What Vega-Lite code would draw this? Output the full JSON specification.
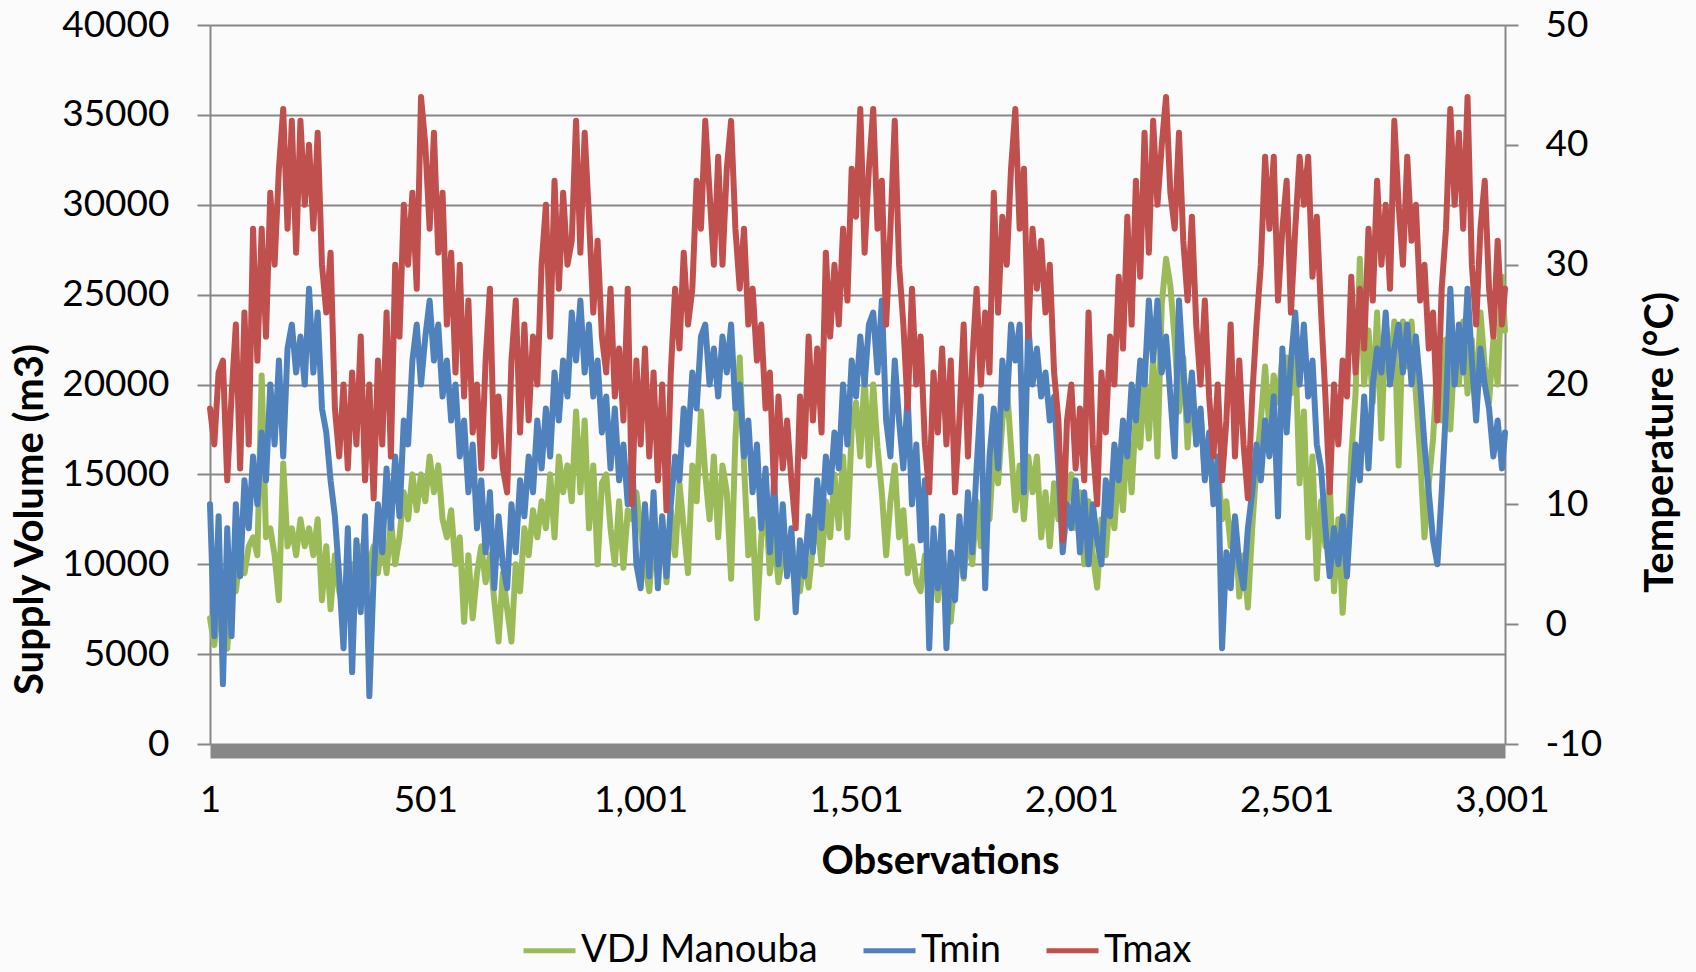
{
"$schema": "https://vega.github.io/schema/vega-lite/v6.json",
"width": 1295, "height": 719,
"autosize": {"type": "none"},
"padding": {"left": 210, "top": 25, "right": 191, "bottom": 228},
"background": "#fbfbfb",
"config": {
 "view": {"stroke": null},
 "font": "Lato",
 "axis": {"labelFont": "Lato", "titleFont": "Lato", "labelColor": "#000000", "titleColor": "#000000", "labelFontSize": 37, "titleFontSize": 40, "titleFontWeight": "bold", "domainColor": "#878787", "tickColor": "#878787", "gridColor": "#878787", "domainWidth": 2, "tickWidth": 2, "gridWidth": 2, "gridOpacity": 1},
 "legend": {"labelFont": "Lato", "labelFontSize": 38, "labelColor": "#000000", "labelLimit": 500}
},
"data": {"values": [
{"o":1,"v":7000,"n":10,"x":18},{"o":11,"v":5500,"n":-1,"x":15},{"o":21,"v":8000,"n":9,"x":21},{"o":31,"v":6500,"n":-5,"x":22},{"o":41,"v":5300,"n":8,"x":12},
{"o":51,"v":9000,"n":-1,"x":19},{"o":61,"v":8500,"n":10,"x":25},{"o":71,"v":10500,"n":4,"x":13},{"o":81,"v":9500,"n":12,"x":26},{"o":91,"v":11000,"n":8,"x":15},
{"o":101,"v":11500,"n":14,"x":33},{"o":111,"v":10500,"n":10,"x":22},{"o":121,"v":20500,"n":16,"x":33},{"o":131,"v":11500,"n":12,"x":24},{"o":141,"v":12000,"n":20,"x":36},
{"o":151,"v":10500,"n":15,"x":30},{"o":161,"v":8000,"n":22,"x":38},{"o":171,"v":15600,"n":14,"x":43},{"o":181,"v":11000,"n":23,"x":33},{"o":191,"v":12000,"n":25,"x":42},
{"o":201,"v":10500,"n":21,"x":31},{"o":211,"v":12500,"n":24,"x":42},{"o":221,"v":11000,"n":20,"x":35},{"o":231,"v":12000,"n":28,"x":40},{"o":241,"v":10500,"n":21,"x":33},
{"o":251,"v":12500,"n":26,"x":41},{"o":261,"v":8000,"n":18,"x":30},{"o":271,"v":11000,"n":16,"x":26},{"o":281,"v":7500,"n":12,"x":31},{"o":291,"v":10500,"n":9,"x":18},
{"o":301,"v":8500,"n":4,"x":14},{"o":311,"v":7500,"n":-2,"x":20},{"o":321,"v":8000,"n":8,"x":13},{"o":331,"v":10000,"n":-4,"x":21},{"o":341,"v":9000,"n":7,"x":15},
{"o":351,"v":11000,"n":1,"x":24},{"o":361,"v":8000,"n":9,"x":12},{"o":371,"v":10000,"n":-6,"x":20},{"o":381,"v":11000,"n":4,"x":10.5},{"o":391,"v":9500,"n":10,"x":22},
{"o":401,"v":11500,"n":6,"x":15},{"o":411,"v":9500,"n":13,"x":26},{"o":421,"v":12500,"n":8,"x":14},{"o":431,"v":10000,"n":14,"x":30},{"o":441,"v":11500,"n":9,"x":24},
{"o":451,"v":14000,"n":17,"x":35},{"o":461,"v":12500,"n":15,"x":30},{"o":471,"v":15000,"n":22,"x":36},{"o":481,"v":13000,"n":25,"x":28},{"o":491,"v":15000,"n":20,"x":44},
{"o":501,"v":13500,"n":24,"x":40},{"o":511,"v":16000,"n":27,"x":33},{"o":521,"v":14000,"n":22,"x":41},{"o":531,"v":15500,"n":25,"x":31},{"o":541,"v":12500,"n":19,"x":36},
{"o":551,"v":11500,"n":22,"x":25},{"o":561,"v":13000,"n":17,"x":31},{"o":571,"v":10000,"n":20,"x":21},{"o":581,"v":11500,"n":14,"x":30},{"o":591,"v":6800,"n":17,"x":19},
{"o":601,"v":10500,"n":11,"x":27},{"o":611,"v":7000,"n":15,"x":16},{"o":621,"v":9500,"n":8,"x":20},{"o":631,"v":11000,"n":12,"x":13},{"o":641,"v":9000,"n":6,"x":22},
{"o":651,"v":10500,"n":11,"x":28},{"o":661,"v":8000,"n":3,"x":14},{"o":671,"v":5700,"n":9,"x":19},{"o":681,"v":9500,"n":5,"x":13},{"o":691,"v":7500,"n":3,"x":11},
{"o":701,"v":5700,"n":10,"x":22},{"o":711,"v":10000,"n":6,"x":27},{"o":721,"v":8500,"n":12,"x":16},{"o":731,"v":12000,"n":9,"x":25},{"o":741,"v":10500,"n":14,"x":17},
{"o":751,"v":13000,"n":11,"x":24},{"o":761,"v":11500,"n":17,"x":20},{"o":771,"v":13500,"n":13,"x":30},{"o":781,"v":12000,"n":18,"x":35},{"o":791,"v":15000,"n":14,"x":24},
{"o":801,"v":11500,"n":21,"x":37},{"o":811,"v":16000,"n":17,"x":28},{"o":821,"v":14000,"n":22,"x":36},{"o":831,"v":15500,"n":19,"x":30},{"o":841,"v":13500,"n":26,"x":32},
{"o":851,"v":18500,"n":22,"x":42},{"o":861,"v":14000,"n":27,"x":31},{"o":871,"v":18000,"n":21,"x":41},{"o":881,"v":12000,"n":25,"x":34},{"o":891,"v":15500,"n":19,"x":26},
{"o":901,"v":10000,"n":22,"x":32},{"o":911,"v":14500,"n":16,"x":24},{"o":921,"v":15000,"n":19,"x":21},{"o":931,"v":12000,"n":13,"x":28},{"o":941,"v":10000,"n":18,"x":19},
{"o":951,"v":13500,"n":12,"x":23},{"o":961,"v":9800,"n":15,"x":17},{"o":971,"v":13000,"n":10,"x":28},{"o":981,"v":12500,"n":14,"x":10},{"o":991,"v":14000,"n":5,"x":22},
{"o":1001,"v":12000,"n":3,"x":15},{"o":1011,"v":10000,"n":10,"x":23},{"o":1021,"v":8500,"n":4,"x":14},{"o":1031,"v":11500,"n":11,"x":21},{"o":1041,"v":9500,"n":3,"x":12},
{"o":1051,"v":12500,"n":9,"x":20},{"o":1061,"v":9000,"n":4,"x":9.5},{"o":1071,"v":13000,"n":10,"x":21},{"o":1081,"v":10500,"n":14,"x":28},{"o":1091,"v":14500,"n":12,"x":23},
{"o":1101,"v":12000,"n":18,"x":31},{"o":1111,"v":9500,"n":15,"x":25},{"o":1121,"v":15500,"n":21,"x":28},{"o":1131,"v":13500,"n":18,"x":37},{"o":1141,"v":18500,"n":24,"x":33},
{"o":1151,"v":15000,"n":25,"x":42},{"o":1161,"v":12500,"n":20,"x":36},{"o":1171,"v":16000,"n":23,"x":30},{"o":1181,"v":11500,"n":19,"x":39},{"o":1191,"v":15500,"n":24,"x":30},
{"o":1201,"v":14000,"n":21,"x":38},{"o":1211,"v":9200,"n":25,"x":42},{"o":1221,"v":17000,"n":18,"x":33},{"o":1231,"v":21500,"n":20,"x":28},{"o":1241,"v":15500,"n":14,"x":33},
{"o":1251,"v":10500,"n":17,"x":25},{"o":1261,"v":12500,"n":11,"x":28},{"o":1271,"v":7000,"n":15,"x":22},{"o":1281,"v":11500,"n":8,"x":25},{"o":1291,"v":13500,"n":13,"x":18},
{"o":1301,"v":9500,"n":6,"x":21},{"o":1311,"v":11500,"n":12,"x":11},{"o":1321,"v":9000,"n":5,"x":19},{"o":1331,"v":10500,"n":10,"x":13},{"o":1341,"v":10000,"n":4,"x":17},
{"o":1351,"v":11500,"n":8,"x":12},{"o":1361,"v":9000,"n":1,"x":8},{"o":1371,"v":8500,"n":7,"x":19},{"o":1381,"v":10500,"n":4,"x":14},{"o":1391,"v":8700,"n":9,"x":24},
{"o":1401,"v":11000,"n":6,"x":17},{"o":1411,"v":12500,"n":12,"x":23},{"o":1421,"v":10000,"n":8,"x":16},{"o":1431,"v":13500,"n":14,"x":31},{"o":1441,"v":11500,"n":11,"x":24},
{"o":1451,"v":15000,"n":16,"x":30},{"o":1461,"v":12000,"n":13,"x":25},{"o":1471,"v":16000,"n":20,"x":33},{"o":1481,"v":11500,"n":15,"x":27},{"o":1491,"v":17500,"n":22,"x":38},
{"o":1501,"v":19000,"n":19,"x":34},{"o":1511,"v":16000,"n":24,"x":43},{"o":1521,"v":20500,"n":20,"x":31},{"o":1531,"v":15500,"n":25,"x":38},{"o":1541,"v":20000,"n":26,"x":43},
{"o":1551,"v":16500,"n":21,"x":33},{"o":1561,"v":14000,"n":27,"x":37},{"o":1571,"v":10500,"n":17,"x":25},{"o":1581,"v":13500,"n":14,"x":33},{"o":1591,"v":15500,"n":22,"x":42},
{"o":1601,"v":11500,"n":17,"x":30},{"o":1611,"v":13000,"n":13,"x":25},{"o":1621,"v":9500,"n":19,"x":18},{"o":1631,"v":11000,"n":10,"x":28},{"o":1641,"v":9000,"n":15,"x":20},
{"o":1651,"v":8500,"n":7,"x":24},{"o":1661,"v":10500,"n":12,"x":15},{"o":1671,"v":9000,"n":-2,"x":11},{"o":1681,"v":10500,"n":8,"x":21},{"o":1691,"v":8000,"n":3,"x":16},
{"o":1701,"v":10500,"n":9,"x":23},{"o":1711,"v":9500,"n":-2,"x":15},{"o":1721,"v":6800,"n":6,"x":22},{"o":1731,"v":9500,"n":2,"x":11},{"o":1741,"v":11000,"n":9,"x":17},
{"o":1751,"v":9200,"n":4,"x":25},{"o":1761,"v":12000,"n":11,"x":14},{"o":1771,"v":10000,"n":6,"x":22},{"o":1781,"v":13500,"n":13,"x":28},{"o":1791,"v":11000,"n":19,"x":20},
{"o":1801,"v":14500,"n":3,"x":26},{"o":1811,"v":12500,"n":14,"x":21},{"o":1821,"v":16500,"n":18,"x":36},{"o":1831,"v":14500,"n":13,"x":26},{"o":1841,"v":18000,"n":22,"x":34},
{"o":1851,"v":20000,"n":18,"x":30},{"o":1861,"v":16500,"n":25,"x":38},{"o":1871,"v":13000,"n":22,"x":43},{"o":1881,"v":15500,"n":25,"x":33},{"o":1891,"v":12500,"n":11,"x":38},
{"o":1901,"v":16000,"n":25,"x":24},{"o":1911,"v":14000,"n":20,"x":33},{"o":1921,"v":16000,"n":23,"x":28},{"o":1931,"v":11500,"n":19,"x":32},{"o":1941,"v":14000,"n":21,"x":26},
{"o":1951,"v":11000,"n":17,"x":30},{"o":1961,"v":14500,"n":19,"x":21},{"o":1971,"v":12500,"n":13,"x":17},{"o":1981,"v":15000,"n":6,"x":7},{"o":1991,"v":13500,"n":10,"x":17},
{"o":2001,"v":15000,"n":8,"x":20},{"o":2011,"v":12000,"n":12,"x":13},{"o":2021,"v":14000,"n":6,"x":18},{"o":2031,"v":10000,"n":11,"x":12},{"o":2041,"v":13500,"n":5,"x":26},
{"o":2051,"v":10500,"n":10,"x":15},{"o":2061,"v":8700,"n":7,"x":10},{"o":2071,"v":12500,"n":5,"x":21},{"o":2081,"v":10500,"n":12,"x":16},{"o":2091,"v":14000,"n":9,"x":24},
{"o":2101,"v":12000,"n":15,"x":20},{"o":2111,"v":15500,"n":12,"x":29},{"o":2121,"v":13000,"n":17,"x":23},{"o":2131,"v":17500,"n":14,"x":34},{"o":2141,"v":14000,"n":20,"x":25},
{"o":2151,"v":18500,"n":17,"x":37},{"o":2161,"v":16500,"n":22,"x":29},{"o":2171,"v":20500,"n":20,"x":41},{"o":2181,"v":17000,"n":27,"x":31},{"o":2191,"v":21500,"n":22,"x":42},
{"o":2201,"v":16000,"n":27,"x":35},{"o":2211,"v":24500,"n":21,"x":40},{"o":2221,"v":27000,"n":24,"x":44},{"o":2231,"v":25500,"n":19,"x":36},{"o":2241,"v":22500,"n":14,"x":33},
{"o":2251,"v":18500,"n":27,"x":41},{"o":2261,"v":21500,"n":21,"x":32},{"o":2271,"v":16500,"n":17,"x":27},{"o":2281,"v":20000,"n":21,"x":34},{"o":2291,"v":17000,"n":15,"x":25},
{"o":2301,"v":18500,"n":18,"x":20},{"o":2311,"v":15000,"n":12,"x":27},{"o":2321,"v":17000,"n":16,"x":19},{"o":2331,"v":14000,"n":10,"x":14},{"o":2341,"v":15500,"n":14,"x":20},
{"o":2351,"v":12500,"n":-2,"x":12},{"o":2361,"v":13500,"n":6,"x":17},{"o":2371,"v":11000,"n":3,"x":25},{"o":2381,"v":12500,"n":9,"x":14},{"o":2391,"v":8200,"n":5,"x":22},
{"o":2401,"v":10500,"n":3,"x":15},{"o":2411,"v":7600,"n":8,"x":10.5},{"o":2421,"v":12000,"n":11,"x":19},{"o":2431,"v":15500,"n":15,"x":25},{"o":2441,"v":18000,"n":12,"x":30},
{"o":2451,"v":21000,"n":17,"x":39},{"o":2461,"v":17500,"n":14,"x":33},{"o":2471,"v":20500,"n":19,"x":39},{"o":2481,"v":19000,"n":9,"x":27},{"o":2491,"v":21500,"n":23,"x":33},
{"o":2501,"v":21500,"n":16,"x":37},{"o":2511,"v":19500,"n":22,"x":26},{"o":2521,"v":22000,"n":26,"x":33},{"o":2531,"v":14500,"n":20,"x":39},{"o":2541,"v":18500,"n":25,"x":35},
{"o":2551,"v":11500,"n":19,"x":39},{"o":2561,"v":16000,"n":22,"x":29},{"o":2571,"v":9200,"n":15,"x":34},{"o":2581,"v":13500,"n":13,"x":26},{"o":2591,"v":11000,"n":8,"x":19},
{"o":2601,"v":14500,"n":4,"x":11},{"o":2611,"v":8500,"n":8,"x":20},{"o":2621,"v":12500,"n":5,"x":15},{"o":2631,"v":7300,"n":9,"x":22},{"o":2641,"v":11000,"n":4,"x":19},
{"o":2651,"v":16000,"n":10,"x":29},{"o":2661,"v":19500,"n":15,"x":21},{"o":2671,"v":27000,"n":12,"x":28},{"o":2681,"v":20000,"n":19,"x":23},{"o":2691,"v":23000,"n":13,"x":33},
{"o":2701,"v":19000,"n":20,"x":27},{"o":2711,"v":24000,"n":23,"x":37},{"o":2721,"v":17000,"n":21,"x":30},{"o":2731,"v":23500,"n":26,"x":35},{"o":2741,"v":20500,"n":20,"x":28},
{"o":2751,"v":23500,"n":23,"x":42},{"o":2761,"v":15500,"n":25,"x":35},{"o":2771,"v":23500,"n":21,"x":30},{"o":2781,"v":21000,"n":25,"x":39},{"o":2791,"v":23500,"n":20,"x":32},
{"o":2801,"v":19500,"n":24,"x":35},{"o":2811,"v":16000,"n":20,"x":27},{"o":2821,"v":11500,"n":15,"x":30},{"o":2831,"v":14500,"n":11,"x":23},{"o":2841,"v":17000,"n":7,"x":26},
{"o":2851,"v":21000,"n":5,"x":17},{"o":2861,"v":18000,"n":11,"x":28},{"o":2871,"v":22500,"n":18,"x":33},{"o":2881,"v":17500,"n":28,"x":43},{"o":2891,"v":22000,"n":20,"x":35},
{"o":2901,"v":20000,"n":25,"x":41},{"o":2911,"v":23500,"n":21,"x":33},{"o":2921,"v":19500,"n":28,"x":44},{"o":2931,"v":22500,"n":22,"x":30},{"o":2941,"v":18500,"n":17,"x":25},
{"o":2951,"v":24000,"n":23,"x":33},{"o":2961,"v":21000,"n":20,"x":37},{"o":2971,"v":19000,"n":18,"x":28},{"o":2981,"v":22500,"n":14,"x":24},{"o":2991,"v":20000,"n":17,"x":32},
{"o":3001,"v":26000,"n":13,"x":25},{"o":3008,"v":23000,"n":16,"x":28}
]},
"encoding": {
 "x": {"field": "o", "type": "quantitative",
  "scale": {"domain": [1, 3008], "nice": false, "zero": false},
  "axis": {"title": "Observations", "values": [1, 501, 1001, 1501, 2001, 2501, 3001], "format": ",d", "ticks": false, "tickSize": 0, "grid": false, "domainWidth": 14, "offset": 7, "labelPadding": 31, "labelFlush": false, "labelOverlap": false, "titleX": 730, "titleY": 110, "titleBaseline": "middle", "titleAlign": "center"}}
},
"layer": [
 {"mark": {"type": "line", "strokeWidth": 6, "strokeJoin": "round", "strokeCap": "round"},
  "encoding": {
   "y": {"field": "v", "type": "quantitative",
    "scale": {"domain": [0, 40000], "nice": false, "zero": false},
    "axis": {"title": "Supply Volume (m3)", "orient": "left", "values": [0, 5000, 10000, 15000, 20000, 25000, 30000, 35000, 40000], "format": "d", "grid": true, "tickSize": 13, "labelPadding": 28, "titleX": -180, "titleY": 494, "titleAngle": 270, "titleBaseline": "middle", "titleAlign": "center"}},
   "color": {"datum": "VDJ Manouba", "type": "nominal",
    "scale": {"domain": ["VDJ Manouba", "Tmin", "Tmax"], "range": ["#9BBB59", "#4F81BD", "#C0504D"]},
    "legend": {"title": null, "orient": "none", "legendX": 311, "legendY": 897, "direction": "horizontal", "symbolType": "stroke", "symbolSize": 2704, "symbolStrokeWidth": 5, "labelOffset": 3, "columnPadding": 35, "labelFontSize": 38}}
  }},
 {"layer": [
  {"mark": {"type": "line", "strokeWidth": 6, "strokeJoin": "round", "strokeCap": "round"},
   "encoding": {
    "y": {"field": "n", "type": "quantitative",
     "scale": {"domain": [-10, 50], "nice": false, "zero": false},
     "axis": {"title": "Temperature (°C)", "orient": "right", "values": [-10, 0, 10, 20, 30, 40, 50], "labelExpr": "toString(datum.value)", "grid": false, "tickSize": 13, "labelPadding": 27, "titleX": 155, "titleY": 417, "titleAngle": 270, "titleBaseline": "middle", "titleAlign": "center"}},
    "color": {"datum": "Tmin", "type": "nominal"}
   }},
  {"mark": {"type": "line", "strokeWidth": 6, "strokeJoin": "round", "strokeCap": "round"},
   "encoding": {
    "y": {"field": "x", "type": "quantitative",
     "scale": {"domain": [-10, 50], "nice": false, "zero": false},
     "axis": {"title": "Temperature (°C)", "orient": "right", "values": [-10, 0, 10, 20, 30, 40, 50], "labelExpr": "toString(datum.value)", "grid": false, "tickSize": 13, "labelPadding": 27, "titleX": 155, "titleY": 417, "titleAngle": 270, "titleBaseline": "middle", "titleAlign": "center"}},
    "color": {"datum": "Tmax", "type": "nominal"}
   }}
 ]}
],
"resolve": {"scale": {"y": "independent"}}
}
